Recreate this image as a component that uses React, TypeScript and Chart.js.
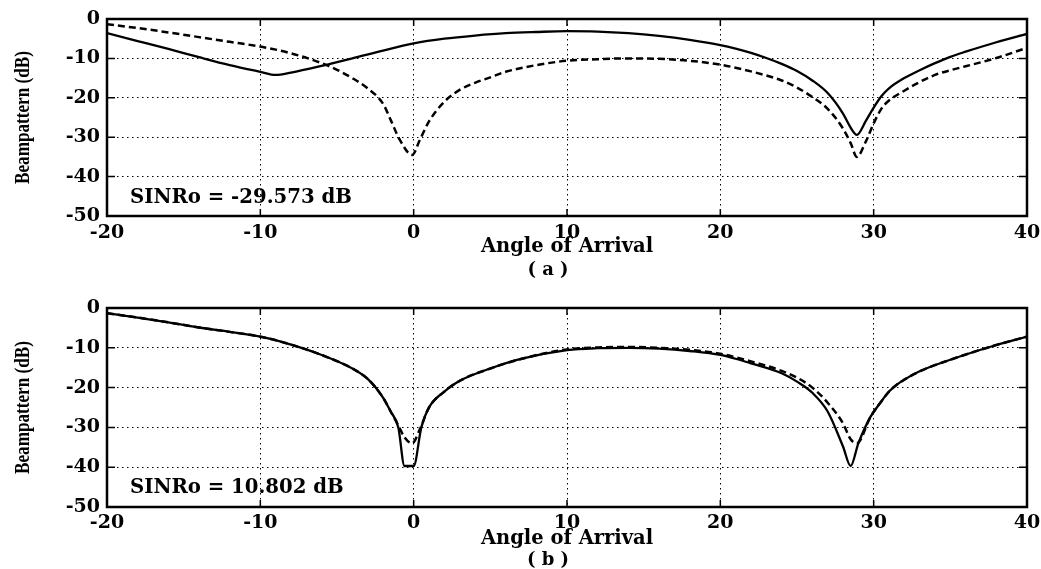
import React, { useEffect, useRef } from "react";
import { Chart, registerables } from "chart.js";

Chart.register(...registerables);

// ---- data ----
const X_TICKS = [-20, -10, 0, 10, 20, 30, 40];
const Y_TICKS = [-50, -40, -30, -20, -10, 0];

const X_A_SOLID = [-20, -18, -16, -14, -12, -10, -9, -8, -6, -4, -2, 0, 2, 4, 6, 8, 10, 12, 14, 16, 18, 20, 21, 22, 23, 24, 25, 26, 27, 28, 28.5, 28.9, 29.5, 30, 30.5, 31, 32, 33, 34, 35, 36, 38, 40];
const Y_A_SOLID = [-3.6, -5.6, -7.6, -9.7, -11.7, -13.4, -14.2, -13.6, -11.9, -10.0, -8.0, -6.2, -5.0, -4.2, -3.6, -3.3, -3.1, -3.2, -3.6, -4.3, -5.3, -6.6, -7.5, -8.6, -9.9, -11.4, -13.2, -15.6, -18.8, -24.0, -27.6, -29.4, -25.8, -22.5, -19.6, -17.6, -15.0, -13.0, -11.2, -9.6, -8.3, -5.9, -3.8];

const X_A_DASH = [-20, -18, -16, -14, -12, -10, -8, -6, -5, -4, -3, -2, -1.5, -0.9, -0.1, 0.4, 1, 2, 3, 4, 5, 6, 8, 10, 12, 14, 16, 18, 20, 22, 24, 25, 26, 27, 28, 28.5, 28.9, 29.5, 30, 30.5, 31, 32, 33, 34, 35, 36, 38, 40];
const Y_A_DASH = [-1.3, -2.3, -3.4, -4.6, -5.8, -7.0, -8.7, -11.2, -12.9, -15.0, -17.6, -21.5, -25.6, -30.7, -34.5, -30.7, -26, -21, -18, -16.2, -14.8, -13.4, -11.7, -10.6, -10.2, -10.0, -10.1, -10.6, -11.6, -13.3, -15.6, -17.4, -19.8, -22.8, -27.8, -31.5, -35, -31, -26.5, -22.8, -20.7, -18.2, -16.0, -14.2, -13.0, -12.0, -9.9, -7.3];

const X_B_SOLID = [-20, -18, -16, -14, -12, -10, -8, -6, -4, -3, -2, -1.5, -1, -0.6, 0, 0.5, 1, 2, 3, 5, 7, 10, 12, 14, 16, 18, 20, 22, 24, 25, 26, 27, 28, 28.5, 29, 29.8, 30.4, 31, 31.5, 32, 33, 35, 38, 40];
const Y_B_SOLID = [-1.3, -2.4, -3.6, -4.9, -6.0, -7.2, -9.2, -11.8, -15.2, -17.8, -22.5, -26, -30, -39.7, -39.7, -30, -25, -21, -18.3, -15.2, -12.8, -10.6, -10.1, -10.0, -10.2, -10.8, -11.8, -13.9, -16.4, -18.5, -21.3, -26, -34.8, -39.7, -34, -27.3, -24, -21.0, -19.3, -18.0, -15.9, -13, -9.3, -7.2];

const X_B_DASH = [-20, -18, -16, -14, -12, -10, -8, -6, -4, -3, -2, -1.5, -1, -0.6, -0.1, 0.4, 1, 2, 3, 5, 7, 10, 12, 14, 16, 18, 20, 22, 24, 25, 26, 27, 28, 28.5, 28.9, 29.8, 30.4, 31, 31.5, 32, 33, 35, 38, 40];
const Y_B_DASH = [-1.3, -2.4, -3.6, -4.9, -6.0, -7.2, -9.2, -11.8, -15.2, -17.8, -22.5, -26, -29.5, -32.5, -34, -30.5, -25, -21, -18.3, -15.2, -12.8, -10.4, -9.9, -9.8, -10.0, -10.5, -11.5, -13.4, -15.8, -17.5, -20, -23.8, -29, -33, -34, -27.3, -24, -21.0, -19.3, -18.0, -15.9, -13, -9.3, -7.2];

const X_TITLE = "Angle of Arrival";
const Y_TITLE = "Beampattern (dB)";
const NOTE_A = "SINRo = -29.573 dB";
const NOTE_B = "SINRo = 10.802 dB";
const LABEL_A = "( a )";
const LABEL_B = "( b )";

const TICK_FONT = { family: "'DejaVu Serif'", weight: "bold" as const, size: 19 };
const TITLE_FONT = { family: "'DejaVu Serif'", weight: "bold" as const, size: 19.5 };

const pts = (xs: number[], ys: number[]) => xs.map((x, i) => ({ x, y: ys[i] }));

const framePlugin = {
  id: "frame",
  afterDraw(chart: any, _args: any, opts: any) {
    const { ctx, chartArea } = chart;
    const { left, right, top, bottom } = chartArea;
    const xs = chart.scales.x;
    const ys = chart.scales.y;
    ctx.save();
    ctx.strokeStyle = "#000";
    ctx.lineWidth = 1.5;
    ctx.beginPath();
    X_TICKS.forEach((v) => {
      const p = xs.getPixelForValue(v);
      ctx.moveTo(p, bottom);
      ctx.lineTo(p, bottom - 7);
      ctx.moveTo(p, top);
      ctx.lineTo(p, top + 7);
    });
    Y_TICKS.forEach((v) => {
      const p = ys.getPixelForValue(v);
      ctx.moveTo(left, p);
      ctx.lineTo(left + 8, p);
      ctx.moveTo(right, p);
      ctx.lineTo(right - 8, p);
    });
    ctx.stroke();
    ctx.lineWidth = 2.5;
    ctx.strokeRect(left, top, right - left, bottom - top);
    ctx.fillStyle = "#000";
    // annotation
    ctx.font = "bold 19.7px 'DejaVu Serif'";
    ctx.textBaseline = "middle";
    ctx.textAlign = "left";
    ctx.fillText(opts.note, left + 23, bottom - opts.noteDy);
    // panel label
    ctx.font = "bold 18px 'DejaVu Serif'";
    ctx.textAlign = "center";
    ctx.fillText(opts.label, opts.labelX, opts.labelY);
    // y-axis title (compressed serif, as in the scanned figure)
    ctx.save();
    ctx.translate(23, (top + bottom) / 2);
    ctx.rotate(-Math.PI / 2);
    ctx.scale(0.78, 1);
    ctx.font = "bold 22px 'Liberation Serif'";
    ctx.textAlign = "center";
    ctx.textBaseline = "middle";
    ctx.fillText(Y_TITLE, 0, 0);
    ctx.restore();
    ctx.restore();
  },
};

type Cfg = {
  solidX: number[];
  solidY: number[];
  dashX: number[];
  dashY: number[];
  height: number;
  top: number;
  bottom: number;
  tickPad: number;
  titlePad: number;
  note: string;
  noteDy: number;
  label: string;
  labelY: number;
};

function makeChart(canvas: HTMLCanvasElement, c: Cfg) {
  return new Chart(canvas, {
    type: "line",
    data: {
      datasets: [
        {
          data: pts(c.solidX, c.solidY),
          borderColor: "#000",
          borderWidth: 2.3,
          pointRadius: 0,
          cubicInterpolationMode: "monotone",
          fill: false,
        },
        {
          data: pts(c.dashX, c.dashY),
          borderColor: "#000",
          borderWidth: 2.5,
          borderDash: [7, 4],
          pointRadius: 0,
          cubicInterpolationMode: "monotone",
          fill: false,
        },
      ],
    },
    options: {
      responsive: false,
      animation: false,
      devicePixelRatio: 1,
      layout: { padding: { left: 0, right: 14, top: c.top, bottom: 0 } },
      plugins: {
        legend: { display: false },
        tooltip: { enabled: false },
        frame: { note: c.note, noteDy: c.noteDy, label: c.label, labelX: 548, labelY: c.labelY },
      } as any,
      scales: {
        x: {
          type: "linear",
          min: -20,
          max: 40,
          afterBuildTicks: (s: any) => {
            s.ticks = X_TICKS.map((v) => ({ value: v }));
          },
          ticks: { font: TICK_FONT, color: "#000", padding: c.tickPad, maxRotation: 0, autoSkip: false },
          grid: { color: "#000", lineWidth: 1, drawTicks: false },
          border: { display: false, dash: [1.5, 3.5] },
          title: { display: true, text: X_TITLE, font: TITLE_FONT, color: "#000", padding: { top: 0, bottom: c.titlePad } },
          afterFit: (s: any) => {
            s.height = c.height - c.bottom;
            s.paddingLeft = 0;
            s.paddingRight = 0;
          },
        },
        y: {
          type: "linear",
          min: -50,
          max: 0,
          afterBuildTicks: (s: any) => {
            s.ticks = Y_TICKS.map((v) => ({ value: v }));
          },
          ticks: { font: TICK_FONT, color: "#000", padding: 7 },
          grid: { color: "#000", lineWidth: 1, drawTicks: false },
          border: { display: false, dash: [1.5, 3.5] },
          afterFit: (s: any) => {
            s.width = 107;
            s.paddingTop = 0;
            s.paddingBottom = 0;
          },
        },
      },
    },
    plugins: [framePlugin],
  } as any);
}

export default function App() {
  const refA = useRef<HTMLCanvasElement>(null);
  const refB = useRef<HTMLCanvasElement>(null);

  useEffect(() => {
    const a = makeChart(refA.current!, {
      solidX: X_A_SOLID,
      solidY: Y_A_SOLID,
      dashX: X_A_DASH,
      dashY: Y_A_DASH,
      height: 280,
      top: 19,
      bottom: 216,
      tickPad: 6,
      titlePad: 21,
      note: NOTE_A,
      noteDy: 18,
      label: LABEL_A,
      labelY: 270,
    });
    const b = makeChart(refB.current!, {
      solidX: X_B_SOLID,
      solidY: Y_B_SOLID,
      dashX: X_B_DASH,
      dashY: Y_B_DASH,
      height: 289,
      top: 28,
      bottom: 227,
      tickPad: 5,
      titlePad: 18,
      note: NOTE_B,
      noteDy: 19,
      label: LABEL_B,
      labelY: 280,
    });
    return () => {
      a.destroy();
      b.destroy();
    };
  }, []);

  return (
    <div style={{ position: "fixed", left: 0, top: 0, width: 1041, height: 569, background: "#fff" }}>
      <canvas ref={refA} width={1041} height={280} style={{ position: "absolute", left: 0, top: 0 }} />
      <canvas ref={refB} width={1041} height={289} style={{ position: "absolute", left: 0, top: 280 }} />
    </div>
  );
}
